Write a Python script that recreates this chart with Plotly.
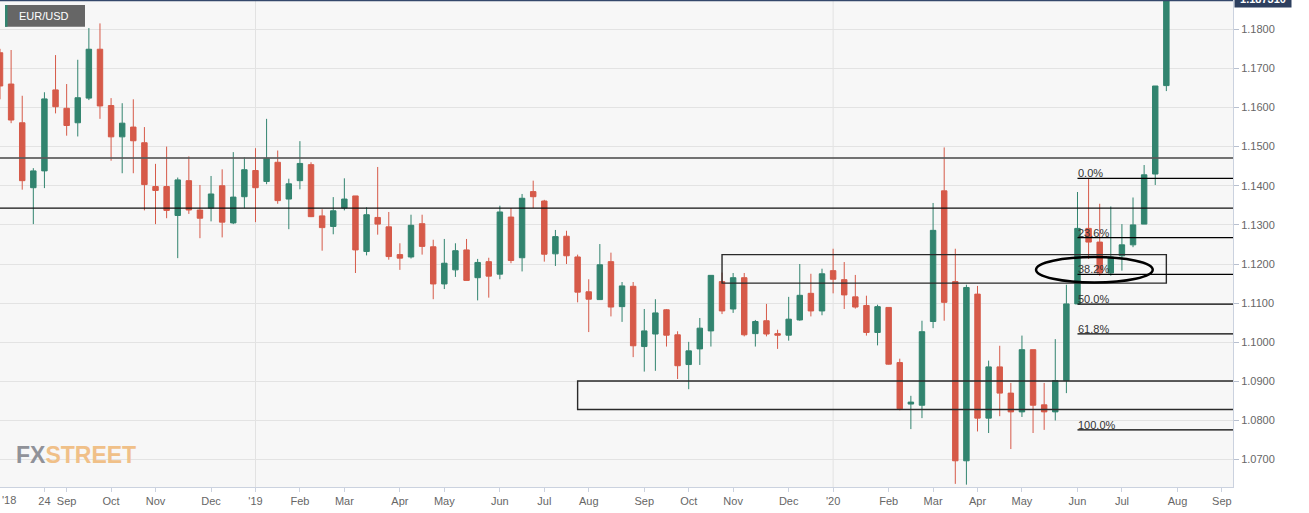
import pandas as pd
import plotly.graph_objects as go

# Weekly EUR/USD candles (week starting Sunday)
start_week = "2018-07-22"
opens = [1.1740, 1.1660, 1.1561, 1.1395, 1.1438, 1.1645, 1.1598, 1.1561, 1.1624, 1.1749,
         1.1605, 1.1525, 1.1550, 1.1510, 1.1398, 1.1398, 1.1324, 1.1413, 1.1338, 1.1343,
         1.1400, 1.1305, 1.1372, 1.1439, 1.1411, 1.1460, 1.1366, 1.1413, 1.1454, 1.1323,
         1.1296, 1.1343, 1.1374, 1.1232, 1.1319, 1.1295, 1.1224, 1.1218, 1.1303, 1.1244,
         1.1149, 1.1185, 1.1236, 1.1165, 1.1206, 1.1174, 1.1320, 1.1216, 1.1385, 1.1361,
         1.1226, 1.1271, 1.1218, 1.1129, 1.1109, 1.1206, 1.1091, 1.1143, 1.0989, 1.1021,
         1.1083, 1.1019, 1.0943, 1.0983, 1.1029, 1.1155, 1.1085, 1.1165, 1.1022, 1.1055,
         1.1022, 1.1018, 1.1057, 1.1125, 1.1080, 1.1183, 1.1160, 1.1116, 1.1094, 1.1025,
         1.1089, 1.0948, 1.0842, 1.0839, 1.1053, 1.1387, 1.1155, 1.0697, 1.1123, 1.0806,
         1.0937, 1.0870, 1.0822, 1.0981, 1.0840, 1.0822, 1.0902, 1.1098, 1.1291, 1.1256,
         1.1177, 1.1221, 1.1249, 1.1302, 1.1430, 1.1656]
highs = [1.1750, 1.1747, 1.1630, 1.1445, 1.1639, 1.1734, 1.1660, 1.1722, 1.1803, 1.1815,
         1.1624, 1.1611, 1.1621, 1.1550, 1.1456, 1.1500, 1.1421, 1.1475, 1.1402, 1.1425,
         1.1442, 1.1486, 1.1473, 1.1496, 1.1571, 1.1490, 1.1418, 1.1514, 1.1460, 1.1340,
         1.1371, 1.1419, 1.1374, 1.1345, 1.1448, 1.1333, 1.1253, 1.1326, 1.1326, 1.1262,
         1.1264, 1.1253, 1.1264, 1.1213, 1.1216, 1.1349, 1.1343, 1.1379, 1.1413, 1.1364,
         1.1287, 1.1285, 1.1224, 1.1161, 1.1251, 1.1229, 1.1154, 1.1154, 1.1085, 1.1110,
         1.1085, 1.1028, 1.1001, 1.1062, 1.1171, 1.1178, 1.1177, 1.1177, 1.1057, 1.1098,
         1.1032, 1.1116, 1.1200, 1.1175, 1.1188, 1.1239, 1.1205, 1.1172, 1.1119, 1.1096,
         1.1089, 1.0958, 1.0863, 1.1055, 1.1356, 1.1498, 1.1239, 1.1147, 1.1144, 1.0953,
         1.0991, 1.0896, 1.1017, 1.0981, 1.0896, 1.1008, 1.1147, 1.1384, 1.1419, 1.1354,
         1.1347, 1.1302, 1.1370, 1.1453, 1.1655, 1.1890]
lows = [1.1621, 1.1560, 1.1390, 1.1302, 1.1394, 1.1585, 1.1528, 1.1526, 1.1619, 1.1571,
        1.1464, 1.1432, 1.1432, 1.1337, 1.1302, 1.1317, 1.1215, 1.1328, 1.1266, 1.1309,
        1.1268, 1.1302, 1.1343, 1.1307, 1.1404, 1.1354, 1.1289, 1.1391, 1.1320, 1.1234,
        1.1276, 1.1337, 1.1177, 1.1222, 1.1275, 1.1211, 1.1185, 1.1214, 1.1224, 1.1110,
        1.1136, 1.1167, 1.1158, 1.1107, 1.1114, 1.1161, 1.1202, 1.1181, 1.1343, 1.1206,
        1.1195, 1.1200, 1.1102, 1.1026, 1.1109, 1.1066, 1.1052, 1.0962, 1.0925, 1.0927,
        1.0989, 1.0906, 1.0880, 1.0942, 1.0989, 1.1072, 1.1075, 1.1015, 1.0989, 1.1015,
        1.0983, 1.1004, 1.1055, 1.1066, 1.1069, 1.1125, 1.1085, 1.1086, 1.1017, 1.0992,
        1.0943, 1.0826, 1.0778, 1.0806, 1.1036, 1.1055, 1.0638, 1.0636, 1.0772, 1.0768,
        1.0811, 1.0727, 1.0809, 1.0768, 1.0776, 1.0800, 1.0870, 1.1098, 1.1213, 1.1170,
        1.1170, 1.1183, 1.1243, 1.1302, 1.1402, 1.1642]
closes = [1.1655, 1.1568, 1.1413, 1.1438, 1.1622, 1.1602, 1.1554, 1.1625, 1.1749, 1.1604,
          1.1525, 1.1560, 1.1515, 1.1403, 1.1388, 1.1337, 1.1415, 1.1338, 1.1317, 1.1379,
          1.1307, 1.1371, 1.1441, 1.1395, 1.1470, 1.1362, 1.1405, 1.1457, 1.1321, 1.1293,
          1.1336, 1.1366, 1.1236, 1.1326, 1.1302, 1.1219, 1.1215, 1.1299, 1.1245, 1.1149,
          1.1202, 1.1234, 1.1158, 1.1204, 1.1169, 1.1333, 1.1209, 1.1368, 1.1372, 1.1225,
          1.1270, 1.1221, 1.1128, 1.1110, 1.1198, 1.1090, 1.1144, 1.0991, 1.1029, 1.1075,
          1.1018, 1.0940, 1.0978, 1.1036, 1.1171, 1.1080, 1.1165, 1.1019, 1.1053, 1.1021,
          1.1018, 1.1059, 1.1120, 1.1080, 1.1175, 1.1161, 1.1121, 1.1090, 1.1025, 1.1091,
          1.0944, 1.0830, 1.0847, 1.1027, 1.1286, 1.1102, 1.0697, 1.1140, 1.0806, 1.0937,
          1.0870, 1.0822, 1.0981, 1.0839, 1.0822, 1.0902, 1.1098, 1.1291, 1.1256, 1.1177,
          1.1218, 1.1249, 1.1300, 1.1428, 1.1655, 1.18731]
last_price = 1.18731

tick_dates = ["2018-08-19", "2018-09-02", "2018-09-30", "2018-10-28", "2018-12-02", "2018-12-30",
              "2019-01-27", "2019-02-24", "2019-03-31", "2019-04-28", "2019-06-02", "2019-06-30",
              "2019-07-28", "2019-09-01", "2019-09-29", "2019-10-27", "2019-12-01", "2019-12-29",
              "2020-02-02", "2020-03-01", "2020-03-29", "2020-04-26", "2020-05-31", "2020-06-28",
              "2020-08-02", "2020-08-30"]
tick_text = ["24", "Sep", "Oct", "Nov", "Dec", "'19", "Feb", "Mar", "Apr", "May", "Jun", "Jul",
             "Aug", "Sep", "Oct", "Nov", "Dec", "'20", "Feb", "Mar", "Apr", "May", "Jun", "Jul",
             "Aug", "Sep"]
year_lines = ["2018-12-30", "2019-12-29"]

# Drawn levels
resistance_levels = [1.1471, 1.1343]
upper_zone = {"x0": "2019-10-20", "x1": "2020-07-26", "y0": 1.1151, "y1": 1.1224}
lower_zone = {"x0": "2019-07-21", "x1": "2020-12-31", "y0": 1.0828, "y1": 1.0901}
ellipse_zone = {"x0": "2020-05-04 21:00", "x1": "2020-07-17 10:00", "y0": 1.1153, "y1": 1.1218}
fib_start = "2020-05-31"
fib_high = 1.1419
fib_low = 1.0776
fib_pcts = [0.0, 23.6, 38.2, 50.0, 61.8, 100.0]

x_range = ["2018-07-22", "2020-09-06"]
y_range = [1.0630, 1.18748]

dates = pd.date_range(start_week, periods=len(opens), freq="7D")

GREEN = "#32846f"
RED = "#d65a49"
FONT = "Liberation Sans, Arial"

fig = go.Figure(go.Candlestick(
    x=dates, open=opens, high=highs, low=lows, close=closes,
    increasing=dict(line=dict(color=GREEN, width=1), fillcolor=GREEN),
    decreasing=dict(line=dict(color=RED, width=1), fillcolor=RED),
    hoverinfo="skip", showlegend=False,
))

shapes = []
for d in year_lines:
    shapes.append(dict(type="line", xref="x", yref="paper", x0=d, x1=d, y0=0, y1=1,
                       line=dict(color="#e2e2e2", width=1), layer="below"))
shapes.append(dict(type="line", xref="paper", yref="y", x0=0, x1=1,
                   y0=resistance_levels[0], y1=resistance_levels[0],
                   line=dict(color="rgba(90,90,90,0.85)", width=2)))
shapes.append(dict(type="line", xref="paper", yref="y", x0=0, x1=1,
                   y0=resistance_levels[1], y1=resistance_levels[1],
                   line=dict(color="#111111", width=1.3)))
for z in (upper_zone, lower_zone):
    shapes.append(dict(type="rect", xref="x", yref="y", x0=z["x0"], x1=z["x1"],
                       y0=z["y0"], y1=z["y1"], line=dict(color="#2a2a2a", width=1.4)))
shapes.append(dict(type="circle", xref="x", yref="y", x0=ellipse_zone["x0"], x1=ellipse_zone["x1"],
                   y0=ellipse_zone["y0"], y1=ellipse_zone["y1"], line=dict(color="#000000", width=2.5)))

annotations = []
for p in fib_pcts:
    lvl = fib_high - p / 100.0 * (fib_high - fib_low)
    shapes.append(dict(type="line", xref="x", yref="y", x0=fib_start, x1="2020-12-31",
                       y0=lvl, y1=lvl, line=dict(color="#000000", width=1.3)))
    annotations.append(dict(x=fib_start, y=lvl, xref="x", yref="y", text=f"{p:.1f}%",
                            showarrow=False, xanchor="left", yanchor="bottom", yshift=-3, xshift=-1,
                            font=dict(size=11, color="#333333", family=FONT)))

# last price line
shapes.append(dict(type="line", xref="paper", yref="y", x0=0, x1=1, y0=last_price, y1=last_price,
                   line=dict(color="#34486b", width=1.2)))

# symbol label box
PW, PH = 1233.0, 487.0
shapes.append(dict(type="rect", xref="paper", yref="paper", x0=5 / PW, x1=85 / PW,
                   y0=1 - 26.7 / PH, y1=1 - 5 / PH, fillcolor="#666666", line=dict(width=0)))
shapes.append(dict(type="rect", xref="paper", yref="paper", x0=5 / PW, x1=7.5 / PW,
                   y0=1 - 26.7 / PH, y1=1 - 5 / PH, fillcolor=GREEN, line=dict(width=0)))
annotations.append(dict(x=16.5 / PW, y=1 - 15.9 / PH, xref="paper", yref="paper", text="EUR/USD",
                        showarrow=False, xanchor="left", yanchor="middle",
                        font=dict(size=11, color="#ffffff", family=FONT)))

# last price tag
annotations.append(dict(x=1, y=last_price, xref="paper", yref="y", text=f"<b>{last_price:.6f}</b>",
                        showarrow=False, xanchor="left", yanchor="bottom", xshift=1, yshift=-7,
                        width=52, height=12, borderpad=2, align="center",
                        bgcolor="#2d3f5f",
                        font=dict(size=11, color="#ffffff", family=FONT)))

# '18 label at left edge
annotations.append(dict(x=0, y=0, xref="paper", yref="paper", text="'18", showarrow=False,
                        xanchor="left", yanchor="top", yshift=-5,
                        font=dict(size=11, color="#666666", family=FONT)))

# watermark
annotations.append(dict(x=14 / PW, y=1 - 454.5 / PH, xref="paper", yref="paper",
                        text="<b><span style='color:#909299'>FX</span><span style='color:#f0c088'>STREET</span></b>",
                        showarrow=False, xanchor="left", yanchor="middle",
                        font=dict(size=23, family=FONT)))

fig.update_layout(
    width=1309, height=513,
    margin=dict(l=0, r=76, t=0, b=26),
    paper_bgcolor="#ffffff",
    plot_bgcolor="#f7f7f7",
    shapes=shapes,
    annotations=annotations,
    font=dict(family=FONT, size=11, color="#666666"),
    xaxis=dict(type="date", range=x_range, rangeslider=dict(visible=False),
               tickmode="array", tickvals=tick_dates, ticktext=tick_text,
               showgrid=False, zeroline=False, showline=True, linecolor="#cbd2df", linewidth=1,
               ticks="outside", ticklen=4, tickcolor="#cbd2df",
               tickfont=dict(size=11, color="#666666")),
    yaxis=dict(side="right", range=y_range, tick0=1.0, dtick=0.01, tickformat=".4f",
               showgrid=True, gridcolor="#e3e3e3", gridwidth=1, zeroline=False,
               showline=True, linecolor="#cbd2df", linewidth=1, mirror=True,
               ticks="outside", ticklen=5, tickcolor="#b8c0cf",
               tickfont=dict(size=11, color="#666666")),
)

fig.write_html("out.html", config={"displayModeBar": False},
               post_script="document.body.style.margin='0';document.body.style.padding='0';")
